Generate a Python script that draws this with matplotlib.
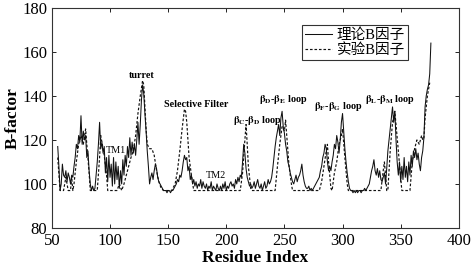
import numpy as np
import matplotlib
matplotlib.use("Agg")
import matplotlib.pyplot as plt

plt.rcParams["font.family"] = ["Liberation Serif", "Noto Sans CJK SC"]
plt.rcParams["mathtext.fontset"] = "stix"

# theoretical B-factor, residues 55..376
theory_start = 55
theory_b = [
    117, 108, 97, 100, 109, 104, 103, 106, 101, 105,
    103, 100, 104, 103, 108, 112, 118, 116, 122, 119,
    131, 118, 124, 120, 122, 112, 115, 106, 100, 97,
    99, 97, 98, 104, 110, 118, 128, 116, 119, 114,
    117, 105, 112, 101, 113, 103, 109, 99, 112, 100,
    110, 102, 108, 98, 106, 100, 111, 104, 113, 108,
    117, 112, 121, 113, 119, 114, 118, 113, 120, 128,
    118, 127, 138, 145, 141, 132, 124, 115, 108, 100,
    103, 105, 102, 106, 109, 107, 103, 101, 100, 99,
    98, 97, 97, 97, 96, 97, 97, 96, 97, 97,
    98, 99, 100, 102, 101, 104, 103, 106, 110, 113,
    111, 112, 106, 108, 102, 104, 100, 102, 99, 101,
    98, 100, 99, 102, 98, 101, 99, 98, 100, 97,
    99, 98, 101, 97, 99, 98, 97, 100, 98, 97,
    99, 97, 100, 98, 101, 97, 99, 98, 100, 101,
    99, 100, 98, 102, 100, 103, 101, 104, 103, 110,
    118, 114, 107, 103, 101, 99, 100, 98, 99, 101,
    98, 100, 102, 99, 98, 100, 97, 99, 101, 98,
    99, 102, 100, 101, 103, 107, 112, 117, 121, 124,
    127, 122, 130, 133, 126, 123, 118, 115, 110, 108,
    105, 103, 101, 100, 102, 104, 101, 103, 104, 106,
    109, 104, 101, 99, 98, 98, 99, 97, 98, 97,
    98, 99, 100, 101, 102, 103, 106, 108, 112, 114,
    118, 116, 110, 106, 108, 106, 110, 113, 118, 116,
    122, 119, 114, 120, 128, 132, 124, 116, 110, 105,
    101, 98, 97, 97, 96, 97, 96, 97, 96, 97,
    97, 96, 97, 97, 98, 97, 98, 99, 100, 103,
    106, 108, 111, 106, 104, 107, 103, 106, 102, 101,
    103, 105, 100, 107, 115, 120, 125, 130, 135, 128,
    133, 120, 110, 104, 110, 101, 108, 102, 112, 103,
    108, 101, 110, 104, 113, 108, 115, 112, 116, 111,
    114, 109, 106, 112, 115, 121, 135, 140, 143, 145,
    150, 164,
]
theory_res = np.arange(theory_start, theory_start + len(theory_b))

# experimental B-factor (residue, value)
exp_res = [55, 57, 60, 62, 64, 66, 67, 68, 69, 71, 73, 75, 77, 79, 80, 82, 83,
           89, 91, 92, 93, 95, 97, 98, 106, 108, 110, 112, 114, 116, 118, 120,
           122, 124, 126, 128, 129, 130, 131, 132, 134, 136, 138, 140, 142, 144,
           146, 153, 156, 158, 160, 162, 164, 165, 166, 167, 168, 170, 172,
           212, 214, 216, 217, 218, 219, 221, 222, 242, 244, 246, 248, 250, 251,
           252, 254, 256, 257, 280, 282, 284, 286, 287, 288, 290, 291, 293, 295,
           297, 299, 300, 302, 304, 305, 333, 335, 336, 337, 338, 339, 341, 343,
           345, 346, 348, 350, 351, 358, 360, 362, 364, 366, 368, 369, 370, 371,
           373, 375]
exp_b = [112, 97, 97, 103, 97, 97, 103, 97, 100, 110, 118, 122, 118, 125, 118, 105, 97,
         97, 112, 122, 119, 113, 104, 97, 97, 100, 97, 100, 104, 108, 112, 115,
         122, 132, 140, 147, 145, 135, 125, 118, 116, 116, 113, 106, 101, 98,
         97, 97, 100, 106, 115, 125, 134, 133, 128, 120, 112, 104, 97,
         97, 105, 120, 127, 118, 108, 98, 97, 97, 108, 118, 126, 124, 129,
         122, 108, 100, 97, 97, 101, 108, 115, 118, 110, 98, 97, 105, 110,
         118, 122, 125, 112, 100, 97, 97, 106, 110, 104, 97, 97, 115, 128,
         133, 127, 115, 103, 97, 97, 110, 116, 120, 118, 122, 120, 121, 130,
         140, 146]

annotations = [
    ("turret", 127.5, 149.5),
    ("Selective Filter", 174, 136),
    ("TM1", 105.5, 115.3),
    ("TM2", 191.5, 103.9),
    (r"$\mathbf{\beta_C}$-$\mathbf{\beta_D}$ loop", 227, 129),
    (r"$\mathbf{\beta_D}$-$\mathbf{\beta_E}$ loop", 249, 138.3),
    (r"$\mathbf{\beta_F}$-$\mathbf{\beta_G}$ loop", 296, 135),
    (r"$\mathbf{\beta_L}$-$\mathbf{\beta_M}$ loop", 341, 138.3),
]

fig = plt.figure(figsize=(4.72, 2.72), dpi=100)
ax = fig.add_axes([0.110, 0.162, 0.862, 0.809])

ax.plot(theory_res, theory_b, color="#111111", lw=0.75, label="理论B因子")
ax.plot(exp_res, exp_b, color="#111111", lw=0.85, dashes=(2.2, 1.6), label="实验B因子")

for text, x, y in annotations:
    fw = "normal" if text.startswith("TM") else "bold"
    ax.text(x, y, text, ha="center", va="center", fontsize=7.3, fontweight=fw)

ax.set_xlim(50, 400)
ax.set_ylim(80, 180)
ax.set_xticks(np.arange(50, 401, 50))
ax.set_yticks(np.arange(80, 181, 20))
ax.tick_params(direction="in", top=True, right=True, labelsize=12, length=3, width=0.6)
for s in ax.spines.values():
    s.set_linewidth(0.8)
    s.set_color("#333333")
ax.set_xlabel("Residue Index", fontsize=12.5, fontweight="bold", labelpad=1)
ax.set_ylabel("B-factor", fontsize=12.5, fontweight="bold", labelpad=1)

leg = ax.legend(loc="upper right", bbox_to_anchor=(0.875, 0.92), fontsize=10.5,
                frameon=True, fancybox=False, edgecolor="black", handlelength=1.9,
                handletextpad=0.3, borderpad=0.2, labelspacing=0.1, borderaxespad=0)
leg.get_frame().set_linewidth(0.8)

fig.savefig("out.png", dpi=100)
